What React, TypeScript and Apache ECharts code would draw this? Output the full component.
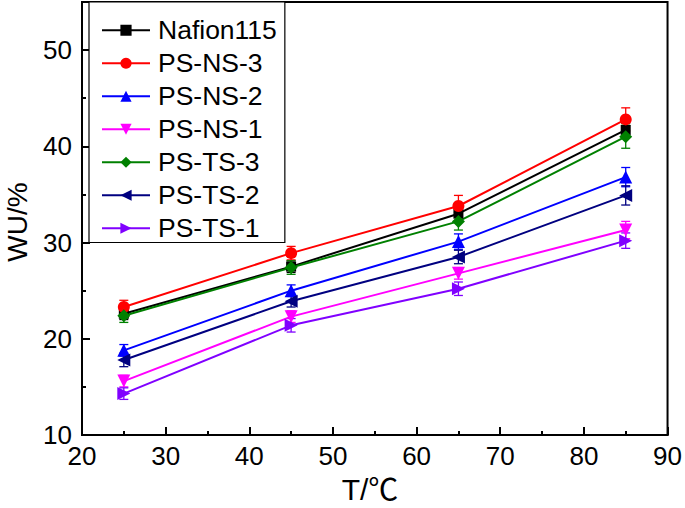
import React, { useEffect, useRef } from "react";
import * as echarts from "echarts";

const temps = [25, 45, 65, 85];
const seriesNames = ["Nafion115", "PS-NS-3", "PS-NS-2", "PS-NS-1", "PS-TS-3", "PS-TS-2", "PS-TS-1"];
const nafion115 = [22.6, 27.5, 33.0, 41.7];
const psNs3 = [23.3, 28.9, 33.8, 42.8];
const psNs2 = [18.8, 25.0, 30.1, 36.8];
const psNs1 = [15.6, 22.3, 26.8, 31.3];
const psTs3 = [22.4, 27.4, 32.2, 41.0];
const psTs2 = [17.8, 23.9, 28.5, 34.9];
const psTs1 = [14.3, 21.4, 25.2, 30.2];
const nafion115Err = [0.6, 0.6, 0.8, 0.7];
const psNs3Err = [0.7, 0.7, 1.1, 1.2];
const psNs2Err = [0.6, 0.6, 0.8, 1.0];
const psNs1Err = [0.6, 0.6, 0.6, 0.9];
const psTs3Err = [0.7, 0.7, 0.9, 1.2];
const psTs2Err = [0.7, 0.6, 0.7, 1.0];
const psTs1Err = [0.6, 0.7, 0.7, 0.8];
const xTicks = [20, 30, 40, 50, 60, 70, 80, 90];
const yMajorTicks = [10, 20, 30, 40, 50];
const yMinorTicks = [15, 25, 35, 45];
const xTitle = "T/℃";
const yTitle = "WU/%";

const FONT = "'Liberation Sans', Arial, 'Noto Sans CJK SC', sans-serif";

export default function App() {
  const ref = useRef<HTMLDivElement>(null);
  useEffect(() => {
    if (!ref.current) return;
    const chart = echarts.init(ref.current, undefined, { renderer: "svg" });
    const values = [nafion115, psNs3, psNs2, psNs1, psTs3, psTs2, psTs1];
    const errs = [nafion115Err, psNs3Err, psNs2Err, psNs1Err, psTs3Err, psTs2Err, psTs1Err];
    const colors = ["#000000", "#ff0000", "#0000ff", "#ff00ff", "#008000", "#000080", "#8000ff"];
    const symbols = ["rect", "circle", "triangle", "triangle", "diamond", "triangle", "triangle"];
    const rotates = [0, 0, 0, 180, 0, 90, -90];
    const sizes = [10, 12, 13, 13, 13, 13, 13];

    const lineSeries = seriesNames.map((name, i) => ({
      name,
      type: "line",
      data: temps.map((t, j) => [t, values[i][j]]),
      symbol: symbols[i],
      symbolRotate: rotates[i],
      symbolSize: sizes[i],
      itemStyle: { color: colors[i] },
      lineStyle: { color: colors[i], width: 2 },
      z: 3,
    }));

    const errSeries = seriesNames.map((name, i) => ({
      name: name + " err",
      type: "custom",
      data: temps.map((t, j) => [t, values[i][j], errs[i][j]]),
      z: 2,
      renderItem: (params: any, api: any) => {
        const x = api.value(0);
        const y = api.value(1);
        const e = api.value(2);
        const top = api.coord([x, y + e]);
        const bot = api.coord([x, y - e]);
        const w = 4.5;
        const style = { stroke: colors[i], lineWidth: 1.3, fill: null };
        return {
          type: "group",
          children: [
            { type: "line", shape: { x1: top[0], y1: top[1], x2: bot[0], y2: bot[1] }, style },
            { type: "line", shape: { x1: top[0] - w, y1: top[1], x2: top[0] + w, y2: top[1] }, style },
            { type: "line", shape: { x1: bot[0] - w, y1: bot[1], x2: bot[0] + w, y2: bot[1] }, style },
          ],
        };
      },
    }));

    const option: any = {
      animation: false,
      backgroundColor: "#ffffff",
      textStyle: { fontFamily: FONT },
      grid: {
        left: 82,
        right: 15,
        top: 2,
        bottom: 73,
        show: true,
        borderColor: "#000",
        borderWidth: 2,
        backgroundColor: "transparent",
      },
      legend: {
        data: seriesNames,
        orient: "vertical",
        left: 89,
        top: 2,
        padding: [15, 8, 1, 12],
        itemWidth: 48,
        itemHeight: 14,
        itemGap: 6.5,
        borderColor: "#000",
        borderWidth: 1.2,
        backgroundColor: "#fff",
        textStyle: { fontFamily: FONT, fontSize: 26.5, color: "#000", lineHeight: 25, padding: [0, 0, 0, 3] },
      },
      graphic: [
        {
          type: "text",
          x: 17,
          y: 222,
          rotation: Math.PI / 2,
          style: {
            text: yTitle,
            fontFamily: FONT,
            fontSize: 28,
            fill: "#000",
            align: "center",
            verticalAlign: "middle",
          },
        },
        {
          type: "text",
          x: 370,
          y: 489,
          style: {
            text: xTitle,
            fontFamily: FONT,
            fontSize: 30,
            fill: "#000",
            align: "center",
            verticalAlign: "middle",
          },
        },
      ],
      xAxis: {
        type: "value",
        min: 20,
        max: 90,
        interval: 10,
        axisLine: { lineStyle: { color: "#000", width: 2 } },
        axisTick: { inside: true, length: 8, lineStyle: { color: "#000", width: 2 } },
        minorTick: { show: true, splitNumber: 2, length: 4, lineStyle: { color: "#000", width: 2 } },
        splitLine: { show: false },
        axisLabel: {
          fontFamily: FONT,
          fontSize: 26,
          color: "#000",
          margin: 8,
          formatter: (v: number) => (xTicks.includes(v) ? String(v) : ""),
        },
      },
      yAxis: [
        {
          type: "value",
          min: 10,
          max: 55,
          axisLine: { show: true, lineStyle: { color: "#000", width: 2 } },
          axisTick: { inside: true, length: 8, customValues: yMajorTicks, lineStyle: { color: "#000", width: 2 } },
          splitLine: { show: false },
          axisLabel: {
            fontFamily: FONT,
            fontSize: 26,
            color: "#000",
            margin: 10,
            customValues: yMajorTicks,
          },
        },
        {
          type: "value",
          min: 10,
          max: 55,
          position: "left",
          offset: 0,
          axisLine: { show: false },
          axisTick: { inside: true, length: 4, customValues: yMinorTicks, lineStyle: { color: "#000", width: 2 } },
          axisLabel: { show: false },
          splitLine: { show: false },
        },
      ],
      series: [...errSeries, ...lineSeries],
    };
    chart.setOption(option);
    return () => chart.dispose();
  }, []);
  return <div ref={ref} style={{ position: "fixed", left: 0, top: 0, width: 685, height: 508 }} />;
}
